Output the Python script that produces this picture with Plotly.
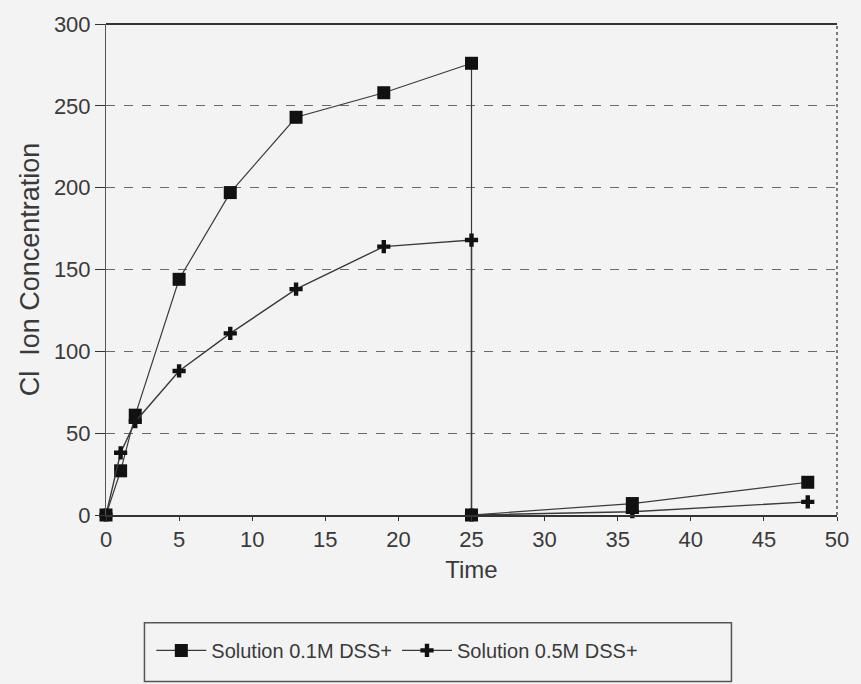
import plotly.graph_objects as go

# Data
time_01 = [0, 1, 2, 5, 8.5, 13, 19, 25, 25, 36, 48]
conc_01 = [0, 27, 61, 144, 197, 243, 258, 276, 0, 7, 20]
time_05 = [0, 1, 2, 5, 8.5, 13, 19, 25, 25, 36, 48]
conc_05 = [0, 38, 57, 88, 111, 138, 164, 168, 0, 2, 8]
names = ["Solution 0.1M DSS+", "Solution 0.5M DSS+"]

x_ticks = list(range(0, 51, 5))
y_ticks = list(range(0, 301, 50))

FONT = "Liberation Sans, Arial, sans-serif"
BG = "#f3f3f3"

fig = go.Figure()
fig.add_trace(go.Scatter(
    x=time_01, y=conc_01, name=names[0], mode="lines+markers",
    line=dict(color="#3a3a3a", width=1.2),
    marker=dict(symbol="square", size=13, color="#111111"),
    cliponaxis=False,
))
fig.add_trace(go.Scatter(
    x=time_05, y=conc_05, name=names[1], mode="lines+markers",
    line=dict(color="#3a3a3a", width=1.4),
    marker=dict(symbol="cross", size=11, color="#111111",
                line=dict(width=0)),
    cliponaxis=False,
))

# Legend frame
fig.add_shape(type="rect", xref="paper", yref="paper",
              x0=0.0526, x1=0.8556, y0=-0.339, y1=-0.2195,
              line=dict(color="#555555", width=1.5), fillcolor=BG, layer="below")

fig.update_layout(
    width=861, height=684,
    margin=dict(l=106, r=14, t=23, b=169),
    paper_bgcolor=BG, plot_bgcolor=BG,
    font=dict(family=FONT, size=20, color="#3a3a3a"),
    showlegend=True,
    legend=dict(orientation="h", x=0.062, xanchor="left", y=-0.236, yanchor="top",
                bgcolor="rgba(0,0,0,0)", borderwidth=0,
                font=dict(size=20, color="#3a3a3a"), itemwidth=50,
                tracegroupgap=0),
    xaxis=dict(range=[0, 50], tickvals=x_ticks, ticks="outside", ticklen=4,
               tickcolor="#333", showgrid=False, zeroline=False,
               showline=True, linecolor="#333", linewidth=2, mirror=False,
               title=dict(text="Time", font=dict(size=24), standoff=10),
               tickfont=dict(size=22)),
    yaxis=dict(range=[0, 300], tickvals=y_ticks, ticks="outside", ticklen=10,
               tickcolor="#333", showgrid=True, gridcolor="#6a6a6a", gridwidth=1,
               griddash="dash", zeroline=False,
               showline=True, linecolor="#555", linewidth=1,
               title=dict(text="Cl  Ion Concentration", font=dict(size=27), standoff=6),
               tickfont=dict(size=22)),
)

# Top and right borders
fig.add_shape(type="line", xref="paper", yref="paper", x0=0, x1=1, y0=1, y1=1,
              line=dict(color="#333", width=2))
fig.add_shape(type="line", xref="paper", yref="paper", x0=1, x1=1, y0=0, y1=1,
              line=dict(color="#555", width=1.5, dash="dot"))

fig.write_html("out.html")
